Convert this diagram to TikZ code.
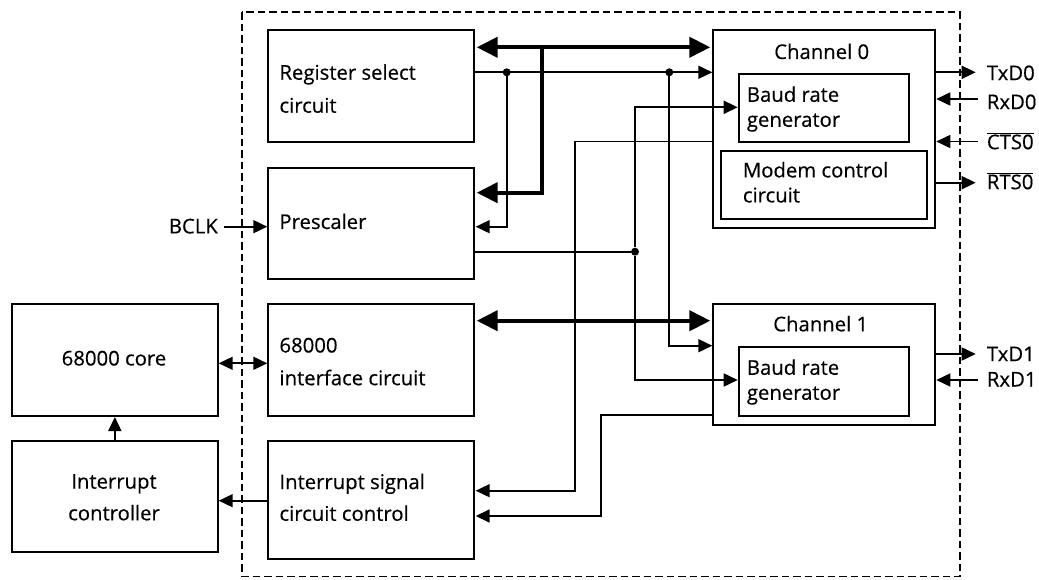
\documentclass[tikz,border=0pt]{standalone}
\usepackage{fontspec}
\setmainfont{Open Sans}[FakeBold=0.4]
\usetikzlibrary{arrows.meta}
\begin{document}
\begin{tikzpicture}[x=1pt,y=-1pt,
  box/.style={draw, line width=2pt, inner sep=0pt, anchor=north west},
  txt/.style={inner sep=0pt, font=\fontsize{20.3}{33}\selectfont, align=left},
  txtin/.style={inner sep=0pt, font=\fontsize{20.3}{25}\selectfont, align=left},
  sig/.style={line width=1.7pt},
  bus/.style={line width=4.2pt},
  tip/.style={-{Triangle[length=14pt,width=13pt]}},
  dtip/.style={{Triangle[length=14pt,width=13pt]}-{Triangle[length=14pt,width=13pt]}},
  btip/.style={-{Triangle[length=21pt,width=20pt]}},
  dbtip/.style={{Triangle[length=21pt,width=20pt]}-{Triangle[length=21pt,width=20pt]}},
  dot/.style={circle, fill, inner sep=0pt, minimum size=8pt},
  frame/.style={draw, line width=1.8pt, dash pattern=on 7.5pt off 4pt}
]
\useasboundingbox (0,0) rectangle (1039,580);

% outer dashed frame
\draw[frame] (241.7,12.3) rectangle (960,576.5);

% boxes
\node[box, minimum width=205.4pt, minimum height=111.7pt] (rs)   at (267.3,29.3) {};
\node[box, minimum width=205.4pt, minimum height=111pt]   (pre)  at (267.3,166.7) {};
\node[box, minimum width=205.4pt, minimum height=111.4pt] (intf) at (267.3,303.3) {};
\node[box, minimum width=205.4pt, minimum height=118.3pt] (isc)  at (267.3,440) {};
\node[box, minimum width=205.7pt, minimum height=111.7pt] (core) at (11,303.3) {};
\node[box, minimum width=205.7pt, minimum height=110.7pt] (ictl) at (11,440) {};
\node[box, minimum width=222pt,   minimum height=197.4pt] (ch0)  at (712.3,29.3) {};
\node[box, minimum width=170.6pt, minimum height=68.3pt]  (br0)  at (737.7,72.7) {};
\node[box, minimum width=205.7pt, minimum height=68.3pt]  (mdm)  at (720,150) {};
\node[box, minimum width=222pt,   minimum height=120.7pt] (ch1)  at (712.3,303.3) {};
\node[box, minimum width=170.6pt, minimum height=69pt]    (br1)  at (737.7,345.7) {};

% texts
\node[txt, anchor=west] (trs) at (279.3,88.6) {Register select\\circuit};
\node[txt, anchor=base west] (tpre) at (279.3,229) {Prescaler};
\node[txt, anchor=west, font=\fontsize{20.3}{32.7}\selectfont] (tintf) at (279.3,361.6) {68000\\interface circuit};
\node[txt, anchor=west, font=\fontsize{20.3}{31.7}\selectfont] (tisc) at (279.3,497.3) {Interrupt signal\\circuit control};
\node[txt, anchor=base] (tcore) at (114,365.5) {68000 core};
\node[txt, anchor=center, align=center, font=\fontsize{20.3}{31.7}\selectfont] (tictl) at (114,497.3) {Interrupt\\controller};
\node[txt, anchor=base] (tch0) at (821.7,59) {Channel 0};
\node[txt, anchor=base] (tch1) at (820.7,331.3) {Channel 1};
\node[txtin, anchor=west] (tbr0) at (746.7,109) {Baud rate\\generator};
\node[txtin, anchor=west] (tbr1) at (746.7,382) {Baud rate\\generator};
\node[txtin, anchor=west] (tmdm) at (742.7,182.3) {Modem control\\circuit};

% external signal labels
\node[txt, anchor=base west] (txd0) at (986.7,80.2) {TxD0};
\node[txt, anchor=base west] (rxd0) at (986.7,109.2) {RxD0};
\node[txt, anchor=base west] (cts0) at (986.7,149.2) {$\overline{\hbox{CTS0}}$};
\node[txt, anchor=base west] (rts0) at (986.7,189.2) {$\overline{\hbox{RTS0}}$};
\node[txt, anchor=base west] (txd1) at (986.7,361.2) {TxD1};
\node[txt, anchor=base west] (rxd1) at (986.7,386.5) {RxD1};
\node[txt, anchor=base east] (bclk) at (218,233.4) {BCLK};

% level coordinates
\coordinate (yb0) at (0,47.3);
\coordinate (yrs) at (0,72.3);
\coordinate (yrx0) at (0,99);
\coordinate (ybr0) at (0,107.3);
\coordinate (ycts) at (0,141.5);
\coordinate (yrts) at (0,182.7);
\coordinate (ypb) at (0,192.7);
\coordinate (ypin) at (0,226.7);
\coordinate (ypout) at (0,251.7);
\coordinate (yb1) at (0,320.7);
\coordinate (yc1in) at (0,345.7);
\coordinate (ytx1) at (0,354);
\coordinate (ycore) at (0,363.3);
\coordinate (ybr1) at (0,380);
\coordinate (yc1out) at (0,414.7);
\coordinate (yis1) at (0,490.7);
\coordinate (yint) at (0,500.7);
\coordinate (yis2) at (0,516);

\coordinate (xbus) at (541.7,0);
\coordinate (xd1) at (506.7,0);
\coordinate (xd2) at (669.3,0);
\coordinate (x635) at (635,0);
\coordinate (x575) at (575,0);
\coordinate (x601) at (601,0);

% junction dots
\node[dot] (j1) at (xd1 |- yrs) {};
\node[dot] (j2) at (xd2 |- yrs) {};
\node[dot] (j3) at (x635 |- ypout) {};
\coordinate (jb) at (xbus |- yb0);

% thick buses
\draw[bus, dbtip, shorten <=2pt, shorten >=2pt] (rs.east |- yb0) -- (ch0.west |- yb0);
\draw[bus, btip, line join=miter, shorten >=2pt] (jb) -- (xbus |- ypb) -- (pre.east |- ypb);
\draw[bus, dbtip, shorten <=2pt, shorten >=2pt] (intf.east |- yb1) -- (ch1.west |- yb1);

% thin signals
\draw[sig, tip] (rs.east |- yrs) -- (ch0.west |- yrs);
\draw[sig, tip, shorten >=1pt] (j1) |- (pre.east |- ypin);
\draw[sig, tip] (j2) |- (ch1.west |- yc1in);
\draw[sig] (pre.east |- ypout) -- (j3);
\draw[sig, tip] (j3) |- (br0.west |- ybr0);
\draw[sig, tip] (j3) |- (br1.west |- ybr1);
\draw[sig, tip, shorten >=1pt] (ch0.west |- ycts) -| (x575 |- yis1) -- (isc.east |- yis1);
\draw[sig, tip, shorten >=1pt] (ch1.west |- yc1out) -| (x601 |- yis2) -- (isc.east |- yis2);
\draw[sig, dtip] (core.east |- ycore) -- (intf.west |- ycore);
\draw[sig, tip] (ictl.north) -- (core.south);
\draw[sig, tip] (isc.west |- yint) -- (ictl.east |- yint);
\draw[sig, tip, shorten <=6pt] (bclk.east |- ypin) -- (pre.west |- ypin);

% external channel signals
\draw[sig, tip, shorten >=11pt] (ch0.east |- yrs) -- (txd0.west |- yrs);
\draw[sig, tip, shorten <=9pt] (rxd0.west |- yrx0) -- (ch0.east |- yrx0);
\draw[sig, tip, shorten <=9pt] (cts0.west |- ycts) -- (ch0.east |- ycts);
\draw[sig, tip, shorten >=11pt] (ch0.east |- yrts) -- (rts0.west |- yrts);
\draw[sig, tip, shorten >=11pt] (ch1.east |- ytx1) -- (txd1.west |- ytx1);
\draw[sig, tip, shorten <=9pt] (rxd1.west |- ybr1) -- (ch1.east |- ybr1);
\end{tikzpicture}
\end{document}
